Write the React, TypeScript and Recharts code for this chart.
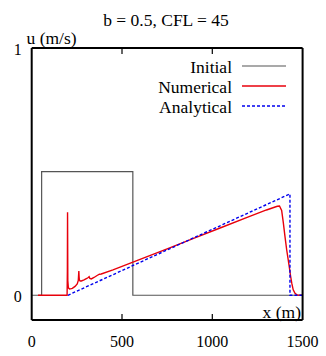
import React from 'react';
import { ComposedChart, Line, XAxis, YAxis } from 'recharts';

const W = 326;
const H = 356;
const FONT = 'Liberation Serif, Times New Roman, DejaVu Serif, serif';

const xTicks = [0, 500, 1000, 1500];
const yTicks = [0, 1];

const initialX = [0, 55, 55, 560, 560, 1500];
const initialU = [0, 0, 0.5, 0.5, 0, 0];

const numericalX = [35, 196, 197.5, 198.5, 200, 203, 210, 225, 240, 252, 258, 261, 262.5, 264, 268, 275, 290, 305, 313, 318, 322, 330, 345, 362, 375, 385, 450, 600, 750, 900, 1050, 1200, 1300, 1340, 1360, 1372, 1384, 1393, 1402, 1412, 1420, 1426, 1433, 1440, 1448, 1458, 1470, 1500];
const numericalU = [0, 0, 0.1, 0.336, 0.06, 0.03, 0.025, 0.028, 0.036, 0.046, 0.06, 0.098, 0.075, 0.062, 0.058, 0.058, 0.062, 0.068, 0.072, 0.075, 0.068, 0.066, 0.072, 0.08, 0.085, 0.086, 0.103, 0.145, 0.188, 0.231, 0.274, 0.317, 0.345, 0.355, 0.36, 0.361, 0.343, 0.295, 0.24, 0.183, 0.145, 0.116, 0.08, 0.049, 0.022, 0.008, 0.001, 0];

const analyticalX = [200, 1430, 1430, 1500];
const analyticalU = [0, 0.41, 0, 0];

const toPoints = (xs: number[], us: number[]) => xs.map((x, i) => ({ x, u: us[i] }));
const initialData = toPoints(initialX, initialU);
const numericalData = toPoints(numericalX, numericalU);
const analyticalData = toPoints(analyticalX, analyticalU);

const txt = { fontFamily: FONT, fontSize: 16, fill: '#000' } as const;

const BottomTick = (props: any) => {
  const { x, y, payload } = props;
  const v = payload.value;
  return (
    <g>
      <text x={x} y={y + 21} textAnchor="middle" dominantBaseline="central" style={txt}>{v}</text>
      {v > 0 && v < 1500 && <line x1={x} x2={x} y1={y} y2={y - 6} stroke="#000" strokeWidth={1.2} />}
    </g>
  );
};

const TopTick = (props: any) => {
  const { x, y, payload } = props;
  const v = payload.value;
  if (v <= 0 || v >= 1500) return <g />;
  return <line x1={x} x2={x} y1={y} y2={y + 6} stroke="#000" strokeWidth={1.2} />;
};

const LeftTick = (props: any) => {
  const { x, y, payload } = props;
  return (
    <text x={x - 10} y={y + 1.5} textAnchor="end" dominantBaseline="central" style={txt}>{payload.value}</text>
  );
};

export default function App() {
  const t2 = { ...txt, fontSize: 17.5 };
  return (
    <div style={{ position: 'absolute', left: 0, top: 0, width: W, height: H, background: '#fff' }}>
      <ComposedChart width={W} height={H} margin={{ top: 0, right: 0, bottom: 0, left: 0 }}>
        <XAxis dataKey="x" type="number" domain={[0, 1500]} ticks={xTicks} height={36} tickSize={0} tickMargin={0} tickLine={false} axisLine={{ stroke: '#000', strokeWidth: 2 }} tick={<BottomTick />} allowDataOverflow interval={0} />
        <XAxis xAxisId="top" orientation="top" dataKey="x" type="number" domain={[0, 1500]} ticks={xTicks} height={48} tickSize={0} tickMargin={0} tickLine={false} axisLine={{ stroke: '#000', strokeWidth: 2 }} tick={<TopTick />} allowDataOverflow interval={0} />
        <YAxis type="number" domain={[-0.1, 1]} ticks={yTicks} width={31.7} tickSize={0} tickMargin={0} tickLine={false} axisLine={{ stroke: '#000', strokeWidth: 2 }} tick={<LeftTick />} allowDataOverflow interval={0} />
        <YAxis yAxisId="r" orientation="right" type="number" domain={[-0.1, 1]} ticks={yTicks} width={23.4} tickLine={false} tick={false} axisLine={{ stroke: '#000', strokeWidth: 2 }} />
        <Line data={initialData} dataKey="u" type="linear" stroke="#555" strokeWidth={1.2} dot={false} isAnimationActive={false} />
        <Line data={numericalData} dataKey="u" type="linear" stroke="#e8000b" strokeWidth={1.4} dot={false} isAnimationActive={false} />
        <Line data={analyticalData} dataKey="u" type="linear" stroke="#0000ee" strokeWidth={1.4} strokeDasharray="3 2" dot={false} isAnimationActive={false} />
      </ComposedChart>
      <svg width={W} height={H} style={{ position: 'absolute', left: 0, top: 0, pointerEvents: 'none' }}>
        <text x={166} y={19.5} textAnchor="middle" dominantBaseline="central" style={t2}>b = 0.5, CFL = 45</text>
        <text x={26.5} y={38} textAnchor="start" dominantBaseline="central" style={t2}>u (m/s)</text>
        <text x={301} y={312} textAnchor="end" dominantBaseline="central" style={t2}>x (m)</text>
        <text x={232} y={67} textAnchor="end" dominantBaseline="central" style={t2}>Initial</text>
        <line x1={242} x2={286} y1={66} y2={66} stroke="#555" strokeWidth={1.2} />
        <text x={232} y={87} textAnchor="end" dominantBaseline="central" style={t2}>Numerical</text>
        <line x1={242} x2={286} y1={86} y2={86} stroke="#e8000b" strokeWidth={1.4} />
        <text x={232} y={107} textAnchor="end" dominantBaseline="central" style={t2}>Analytical</text>
        <line x1={242} x2={286} y1={106} y2={106} stroke="#0000ee" strokeWidth={1.4} strokeDasharray="3 2" />
      </svg>
    </div>
  );
}
